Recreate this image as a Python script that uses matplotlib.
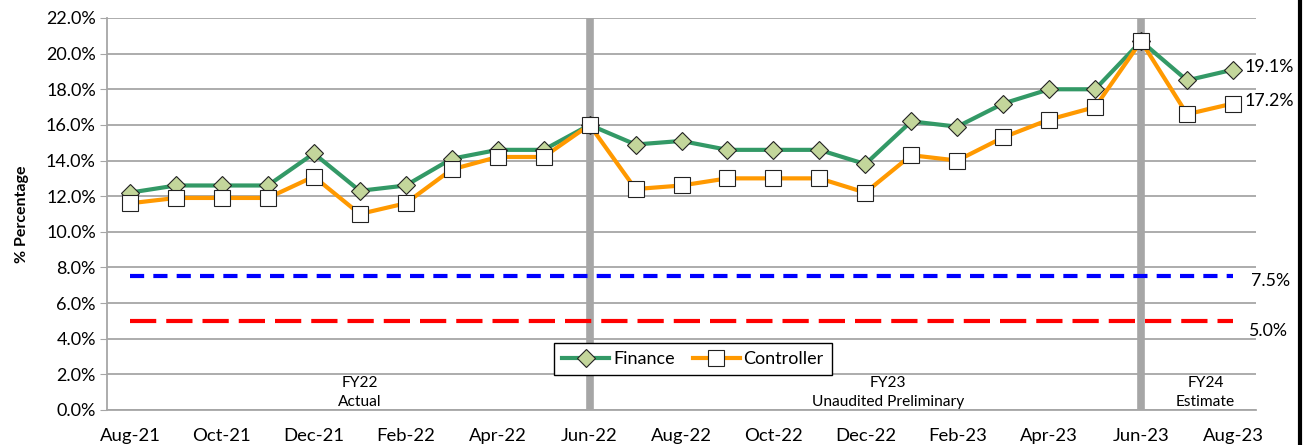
import matplotlib
matplotlib.use("Agg")
import matplotlib.pyplot as plt
from matplotlib.lines import Line2D
from matplotlib.ticker import FuncFormatter, MultipleLocator

plt.rcParams['font.family'] = ['Lato', 'DejaVu Sans']

months = ["Aug-21", "Sep-21", "Oct-21", "Nov-21", "Dec-21", "Jan-22", "Feb-22", "Mar-22",
          "Apr-22", "May-22", "Jun-22", "Jul-22", "Aug-22", "Sep-22", "Oct-22", "Nov-22",
          "Dec-22", "Jan-23", "Feb-23", "Mar-23", "Apr-23", "May-23", "Jun-23", "Jul-23", "Aug-23"]
finance = [12.2, 12.6, 12.6, 12.6, 14.4, 12.3, 12.6, 14.1, 14.6, 14.6, 16.0, 14.9, 15.1,
           14.6, 14.6, 14.6, 13.8, 16.2, 15.9, 17.2, 18.0, 18.0, 20.7, 18.5, 19.1]
controller = [11.6, 11.9, 11.9, 11.9, 13.1, 11.0, 11.6, 13.5, 14.2, 14.2, 16.0, 12.4, 12.6,
              13.0, 13.0, 13.0, 12.2, 14.3, 14.0, 15.3, 16.3, 17.0, 20.7, 16.6, 17.2]
threshold_high = 7.5
threshold_low = 5.0
fy_breaks = ["Jun-22", "Jun-23"]
period_labels = ["FY22\nActual", "FY23\nUnaudited Preliminary", "FY24\nEstimate"]
period_centers = [5, 16.5, 23.4]

x = list(range(len(months)))

fig = plt.figure(figsize=(13.08, 4.45), dpi=100)
ax = fig.add_axes([107/1308, 1 - 410/445, (1256 - 107)/1308, (410 - 18)/445])

ax.set_xlim(-0.5, len(months) - 0.5)
ax.set_ylim(0, 22)
ax.yaxis.set_major_locator(MultipleLocator(2))
ax.yaxis.set_major_formatter(FuncFormatter(lambda v, p: f"{v:.1f}%"))
ax.grid(axis='y', color='#A6A6A6', lw=1.3)
ax.set_axisbelow(True)

for s in ['top', 'right']:
    ax.spines[s].set_visible(False)
for s in ['left', 'bottom']:
    ax.spines[s].set_color('#A6A6A6')
    ax.spines[s].set_linewidth(1.3)

ax.set_xticks(x[::2])
ax.set_xticklabels(months[::2])
ax.tick_params(axis='x', length=0, labelsize=13.3, pad=13)
ax.tick_params(axis='y', length=5, color='#A6A6A6', labelsize=13, pad=3)
ax.set_ylabel("% Percentage", fontsize=11.5, fontweight='bold', labelpad=12)

for m in fy_breaks:
    ax.axvline(months.index(m), color='#A6A6A6', lw=5.5, zorder=1)

ax.plot([x[0], x[-1]], [threshold_high] * 2, color='#0000FF', lw=3,
        dashes=(3.4, 2.2), zorder=2)
ax.plot([x[0], x[-1]], [threshold_low] * 2, color='#FF0000', lw=3,
        dashes=(6.3, 2.4), zorder=2)

ax.plot(x, finance, color='#339966', lw=3, marker='D', ms=9.5,
        markerfacecolor='#C3D69B', markeredgecolor='#222222', markeredgewidth=0.8,
        zorder=4, label='Finance')
ax.plot(x, controller, color='#FF9900', lw=3, marker='s', ms=12,
        markerfacecolor='white', markeredgecolor='#222222', markeredgewidth=0.8,
        zorder=5, label='Controller')

ax.annotate(f"{finance[-1]:.1f}%", (x[-1], finance[-1]), xytext=(8, 2),
            textcoords='offset points', fontsize=12.8, va='center', annotation_clip=False)
ax.annotate(f"{controller[-1]:.1f}%", (x[-1], controller[-1]), xytext=(8, 2),
            textcoords='offset points', fontsize=12.8, va='center', annotation_clip=False)
ax.annotate(f"{threshold_high:.1f}%", (x[-1], threshold_high), xytext=(13, -3),
            textcoords='offset points', fontsize=12.8, va='center', annotation_clip=False)
ax.annotate(f"{threshold_low:.1f}%", (x[-1], threshold_low), xytext=(11, -7),
            textcoords='offset points', fontsize=12.8, va='center', annotation_clip=False)

for c, t in zip(period_centers, period_labels):
    ax.text(c, 1.0, t, ha='center', va='center', fontsize=11.2, linespacing=1.45)

leg = ax.legend(loc='center', bbox_to_anchor=((693 - 107) / (1256 - 107), (410 - 359) / 392),
                ncol=2, fontsize=13, frameon=True, fancybox=False, edgecolor='black',
                framealpha=1, handlelength=2.6, handletextpad=0.2, columnspacing=1.0,
                borderpad=0.45)
leg.get_frame().set_linewidth(1.0)

fig.add_artist(Line2D([1300/1308, 1300/1308], [0, 1], color='black', lw=3,
                      transform=fig.transFigure))

fig.savefig("out.png", dpi=100)
